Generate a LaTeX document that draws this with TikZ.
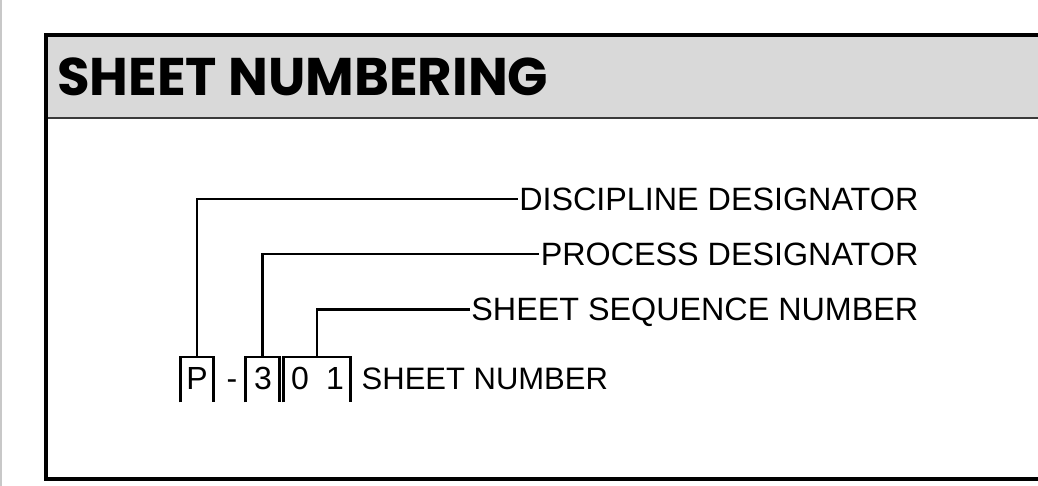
\documentclass[tikz,border=0pt]{standalone}
\usepackage{fontspec}
\setmainfont{Liberation Sans}
\newfontfamily\titlefont{Poppins}[UprightFont=* Bold]
\definecolor{bandgray}{HTML}{D9D9D9}
\definecolor{rulegray}{HTML}{3A3A3A}
\definecolor{edgegray}{HTML}{C8C8C8}
\tikzset{
  lbl/.style={inner sep=0pt, inner xsep=1.5pt, text height=23.3pt, text depth=0pt,
              font=\fontsize{32.3}{33}\selectfont},
  digit/.style={inner sep=0pt, text height=23pt, text depth=0pt,
                font=\fontsize{32}{33}\selectfont},
  slot/.style={inner sep=0pt, minimum height=45pt},
  leader/.style={line width=2.7pt, line cap=butt, line join=miter},
}
\begin{document}
\begin{tikzpicture}[x=1pt, y=-1pt]
  \useasboundingbox (0,0) rectangle (1038,486);
  % faint sheet edge
  \draw[edgegray, line width=1.5pt] (0.75,0) -- (0.75,486);

  % title band and frame
  \fill[bandgray] (46,35) rectangle (1045,118);
  \draw[rulegray, line width=2pt] (46,118.5) -- (1045,118.5);
  \draw[line width=4.5pt, line join=miter] (1045,35) -- (46,35) -- (46,479) -- (1045,479);
  \node[anchor=base west, inner sep=0pt, font=\titlefont\fontsize{53}{53}\selectfont]
    (title) at (57,96) {SHEET NUMBERING};

  % labels
  \node[lbl, anchor=south east] (disc) at (920,211) {DISCIPLINE DESIGNATOR};
  \node[lbl, anchor=south east] (proc) at (920,266) {PROCESS DESIGNATOR};
  \node[lbl, anchor=south east] (seq)  at (920,321) {SHEET SEQUENCE NUMBER};

  % character slots
  \node[slot, minimum width=32pt, anchor=north] (pbox) at (197,357) {};
  \node[slot, minimum width=33pt, anchor=north] (tbox) at (262.5,357) {};
  \node[slot, minimum width=66pt, anchor=north] (sbox) at (317,357) {};

  \node[digit, anchor=south] (pch)  at (197,390) {P};
  \node[digit, anchor=south] (dash) at (232,390) {-};
  \node[digit, anchor=south] (tch)  at (263,390) {3};
  \node[digit, anchor=south] (zch)  at (300,390) {0};
  \node[digit, anchor=south] (och)  at (335,390) {1};
  \node[digit, inner xsep=1.5pt, anchor=south west, font=\fontsize{31}{32}\selectfont]
    (full) at (360,390) {SHEET NUMBER};

  \foreach \b in {pbox,tbox,sbox}
    \draw[leader] (\b.south west) -- (\b.north west) -- (\b.north east) -- (\b.south east);

  % leaders to labels
  \draw[leader] (pbox.north) |- (disc.west);
  \draw[leader] (tbox.north) |- (proc.west);
  \draw[leader] (sbox.north) |- (seq.west);
\end{tikzpicture}
\end{document}
